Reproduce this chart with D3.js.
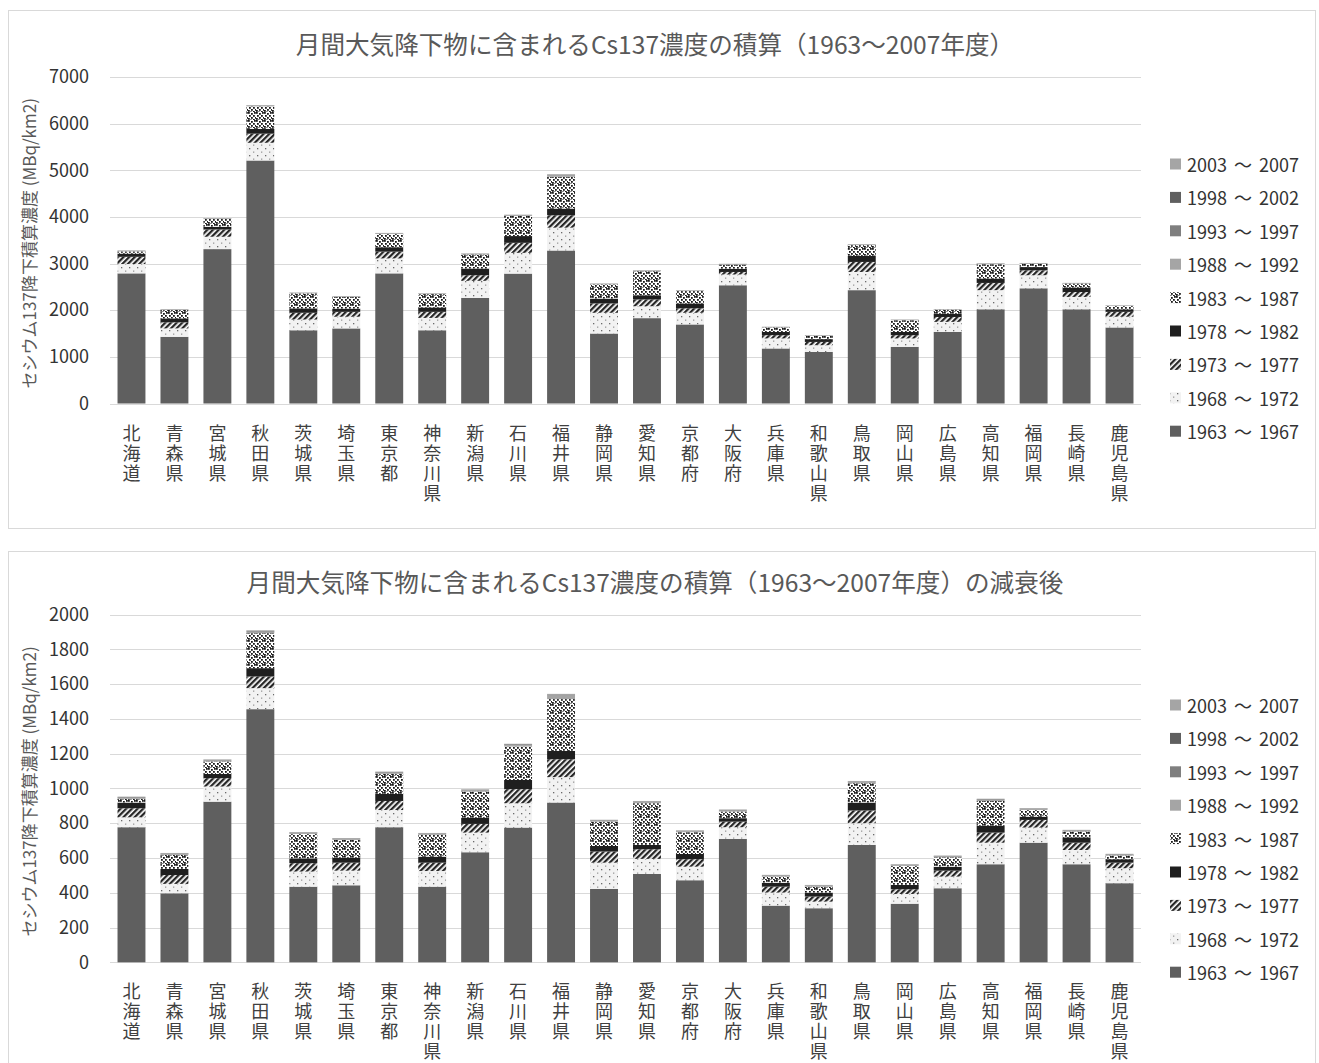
<!DOCTYPE html>
<html lang="ja">
<head>
<meta charset="utf-8">
<script src="https://cdn.jsdelivr.net/npm/d3@7"></script>
<style>
  html, body { margin: 0; padding: 0; background: #fff; }
  svg { display: block; font-family: "Noto Sans CJK JP", "Noto Sans", sans-serif; }
</style>
</head>
<body>
<svg id="chart" width="1319" height="1063"></svg>
<script>
// 都道府県
const prefectures = ["北海道","青森県","宮城県","秋田県","茨城県","埼玉県","東京都","神奈川県","新潟県","石川県","福井県","静岡県","愛知県","京都府","大阪府","兵庫県","和歌山県","鳥取県","岡山県","広島県","高知県","福岡県","長崎県","鹿児島県"];

// 期間（積み上げ順：下から上）
const periods = ["1963 ～ 1967","1968 ～ 1972","1973 ～ 1977","1978 ～ 1982","1983 ～ 1987","1988 ～ 1992","1993 ～ 1997","1998 ～ 2002","2003 ～ 2007"];

// 積算値 (MBq/km2)
const cum1963 = [2790,1430,3310,5210,1570,1610,2790,1570,2265,2785,3280,1500,1830,1695,2535,1180,1105,2430,1215,1535,2020,2470,2020,1630];
const cum1968 = [200,180,265,380,230,250,320,265,365,445,490,445,255,250,230,215,145,390,180,215,410,280,265,230];
const cum1973 = [155,130,155,195,145,105,145,130,120,215,265,200,145,95,55,70,70,215,70,105,155,105,105,105];
const cum1978 = [70,85,60,105,95,70,95,95,145,145,145,105,90,105,70,70,60,130,70,70,95,70,95,55];
const cum1983 = [45,180,165,480,320,250,285,285,300,430,680,305,515,265,85,95,70,230,250,85,305,70,85,70];
const cum1988 = [12,10,10,15,10,10,12,10,12,15,40,10,12,10,10,8,8,12,8,8,12,10,8,8];
const cum1993 = [4,3,4,5,3,3,4,3,4,5,6,3,4,3,4,3,3,4,3,3,4,3,3,3];
const cum1998 = [3,3,3,4,3,3,3,3,3,4,5,3,3,3,3,2,2,3,2,2,3,3,3,2];
const cum2003 = [3,2,3,4,2,2,3,2,3,3,4,2,3,2,3,2,2,3,2,2,3,2,2,2];

// 減衰後の値 (MBq/km2)
const dec1963 = [777,397,924,1456,435,443,777,435,633,775,919,422,508,472,710,326,311,675,337,426,564,688,564,455];
const dec1968 = [57,54,87,121,87,84,99,90,113,140,146,151,87,78,67,75,38,125,56,67,124,87,82,86];
const dec1973 = [52,51,48,67,48,46,52,48,50,81,103,64,55,43,32,34,29,73,27,34,58,44,42,32];
const dec1978 = [33,35,25,48,28,29,41,35,36,53,48,32,25,30,20,23,23,46,25,23,40,19,31,20];
const dec1983 = [21,81,71,201,140,102,115,125,150,192,298,140,240,125,38,35,34,111,109,54,142,38,33,21];
const dec1988 = [6,5,5,8,5,5,6,5,6,8,20,5,6,5,5,4,4,6,4,4,6,5,4,4];
const dec1993 = [3,2,3,3,2,2,3,2,3,3,4,2,3,2,3,2,2,3,2,2,3,2,2,2];
const dec1998 = [2,2,2,3,2,2,2,2,2,3,3,2,2,2,2,2,2,2,2,2,2,2,2,2];
const dec2003 = [2,2,2,3,2,2,2,2,2,2,3,2,2,2,2,2,2,2,2,2,2,2,2,2];

// 目盛り
const cumTicks = [0,1000,2000,3000,4000,5000,6000,7000];
const decTicks = [0,200,400,600,800,1000,1200,1400,1600,1800,2000];

const svg = d3.select("#chart");
const defs = svg.append("defs");

// 塗りパターン
// 1968-1972: 薄いドット
const pDots = defs.append("pattern").attr("id","pDots")
  .attr("patternUnits","userSpaceOnUse").attr("width",8).attr("height",7);
pDots.append("rect").attr("width",8).attr("height",7).attr("fill","#f2f2f2");
pDots.append("rect").attr("x",1).attr("y",1).attr("width",1.3).attr("height",1.3).attr("fill","#6a6a6a");
pDots.append("rect").attr("x",5).attr("y",4.5).attr("width",1.3).attr("height",1.3).attr("fill","#9a9a9a");

// 1973-1977: 右上がり斜線
const pHatch = defs.append("pattern").attr("id","pHatch")
  .attr("patternUnits","userSpaceOnUse").attr("width",4).attr("height",4)
  .attr("patternTransform","rotate(45)");
pHatch.append("rect").attr("width",4).attr("height",4).attr("fill","#ffffff");
pHatch.append("rect").attr("x",0).attr("y",0).attr("width",2.3).attr("height",4).attr("fill","#262626");

// 1983-1987: 紙吹雪
const pConf = defs.append("pattern").attr("id","pConf")
  .attr("patternUnits","userSpaceOnUse").attr("width",8).attr("height",8);
pConf.append("rect").attr("width",8).attr("height",8).attr("fill","#ffffff");
[[0,0],[3,1],[6,0],[1,3],[5,3],[3,5],[7,5],[0,6],[5,7],[2,7.5]].forEach(([x,y]) => {
  pConf.append("rect").attr("x",x).attr("y",y).attr("width",1.8).attr("height",1.8).attr("fill","#1a1a1a");
});

const fills = ["#5f5f5f","url(#pDots)","url(#pHatch)","#1f1f1f","url(#pConf)","#a5a5a5","#7f7f7f","#5f5f5f","#a5a5a5"];

function drawPanel(cfg) {
  const g = svg.append("g");

  // 枠
  g.append("rect")
    .attr("x", 8.5).attr("y", cfg.boxTop + 0.5)
    .attr("width", 1307).attr("height", cfg.boxHeight)
    .attr("fill", "#fff").attr("stroke", "#d9d9d9").attr("stroke-width", 1);

  // タイトル
  g.append("text")
    .attr("x", 655).attr("y", cfg.titleY)
    .attr("text-anchor", "middle").attr("dominant-baseline", "central")
    .attr("font-size", 24.6).attr("fill", "#595959")
    .text(cfg.title);

  const x = d3.scaleBand().domain(prefectures).range([110, 1141])
    .paddingInner(0.35).paddingOuter(0.175);
  const y = d3.scaleLinear().domain([0, cfg.yMax]).range([cfg.y0, cfg.yTop]);

  // 目盛線
  g.append("g").selectAll("line").data(cfg.ticks).join("line")
    .attr("x1", 110).attr("x2", 1141)
    .attr("y1", d => Math.round(y(d)) + 0.5).attr("y2", d => Math.round(y(d)) + 0.5)
    .attr("stroke", "#d9d9d9").attr("stroke-width", 1);

  // Y軸ラベル
  const yAxis = d3.axisLeft(y).tickValues(cfg.ticks).tickSize(0).tickPadding(0).tickFormat(d3.format("d"));
  const ay = g.append("g").attr("transform", "translate(89,0)").call(yAxis);
  ay.select(".domain").remove();
  ay.selectAll("text").attr("font-size", 18).attr("fill", "#333")
    .attr("font-family", "\"Noto Sans CJK JP\", sans-serif");

  // Y軸タイトル
  g.append("text")
    .attr("transform", `translate(28,${(cfg.y0 + cfg.yTop) / 2 + 3}) rotate(-90)`)
    .attr("text-anchor", "middle").attr("dominant-baseline", "central")
    .attr("font-size", 17).attr("fill", "#595959")
    .text("セシウム137降下積算濃度 (MBq/km2)");

  // 積み上げ
  const rows = prefectures.map((p, i) => {
    const r = { pref: p };
    cfg.series.forEach((s, k) => { r[periods[k]] = s[i]; });
    return r;
  });
  const stacked = d3.stack().keys(periods)(rows);

  g.append("g").selectAll("g").data(stacked).join("g")
    .attr("fill", (d, k) => fills[k])
    .selectAll("rect").data(d => d).join("rect")
      .attr("x", d => x(d.data.pref))
      .attr("width", x.bandwidth())
      .attr("y", d => y(d[1]))
      .attr("height", d => Math.max(0, y(d[0]) - y(d[1])));

  // X軸ラベル（一文字ずつ縦に並べる）
  const xl = g.append("g").selectAll("text").data(prefectures).join("text")
    .attr("text-anchor", "middle").attr("dominant-baseline", "central")
    .attr("font-size", 18).attr("fill", "#404040");
  xl.each(function(p) {
    const t = d3.select(this);
    Array.from(p).forEach((ch, j) => {
      t.append("tspan")
        .attr("x", x(p) + x.bandwidth() / 2)
        .attr("y", cfg.y0 + 28 + j * 20)
        .text(ch);
    });
  });

  // 凡例
  const leg = g.append("g");
  const order = periods.map((p, k) => k).reverse();
  order.forEach((k, i) => {
    const cy = cfg.legendTop + i * 33.4;
    leg.append("rect").attr("x", 1170).attr("y", cy - 5.5)
      .attr("width", 11).attr("height", 11).attr("fill", fills[k]);
    leg.append("text").attr("x", 1187).attr("y", cy)
      .attr("dominant-baseline", "central")
      .attr("font-size", 18).attr("fill", "#333")
      .attr("word-spacing", 3)
      .text(periods[k]);
  });
}

drawPanel({
  boxTop: 10, boxHeight: 518, titleY: 43,
  title: "月間大気降下物に含まれるCs137濃度の積算（1963～2007年度）",
  yMax: 7000, ticks: cumTicks, y0: 403.5, yTop: 77,
  series: [cum1963,cum1968,cum1973,cum1978,cum1983,cum1988,cum1993,cum1998,cum2003],
  legendTop: 164
});

drawPanel({
  boxTop: 551, boxHeight: 540, titleY: 581,
  title: "月間大気降下物に含まれるCs137濃度の積算（1963～2007年度）の減衰後",
  yMax: 2000, ticks: decTicks, y0: 962.3, yTop: 614.6,
  series: [dec1963,dec1968,dec1973,dec1978,dec1983,dec1988,dec1993,dec1998,dec2003],
  legendTop: 705
});
</script>
</body>
</html>
